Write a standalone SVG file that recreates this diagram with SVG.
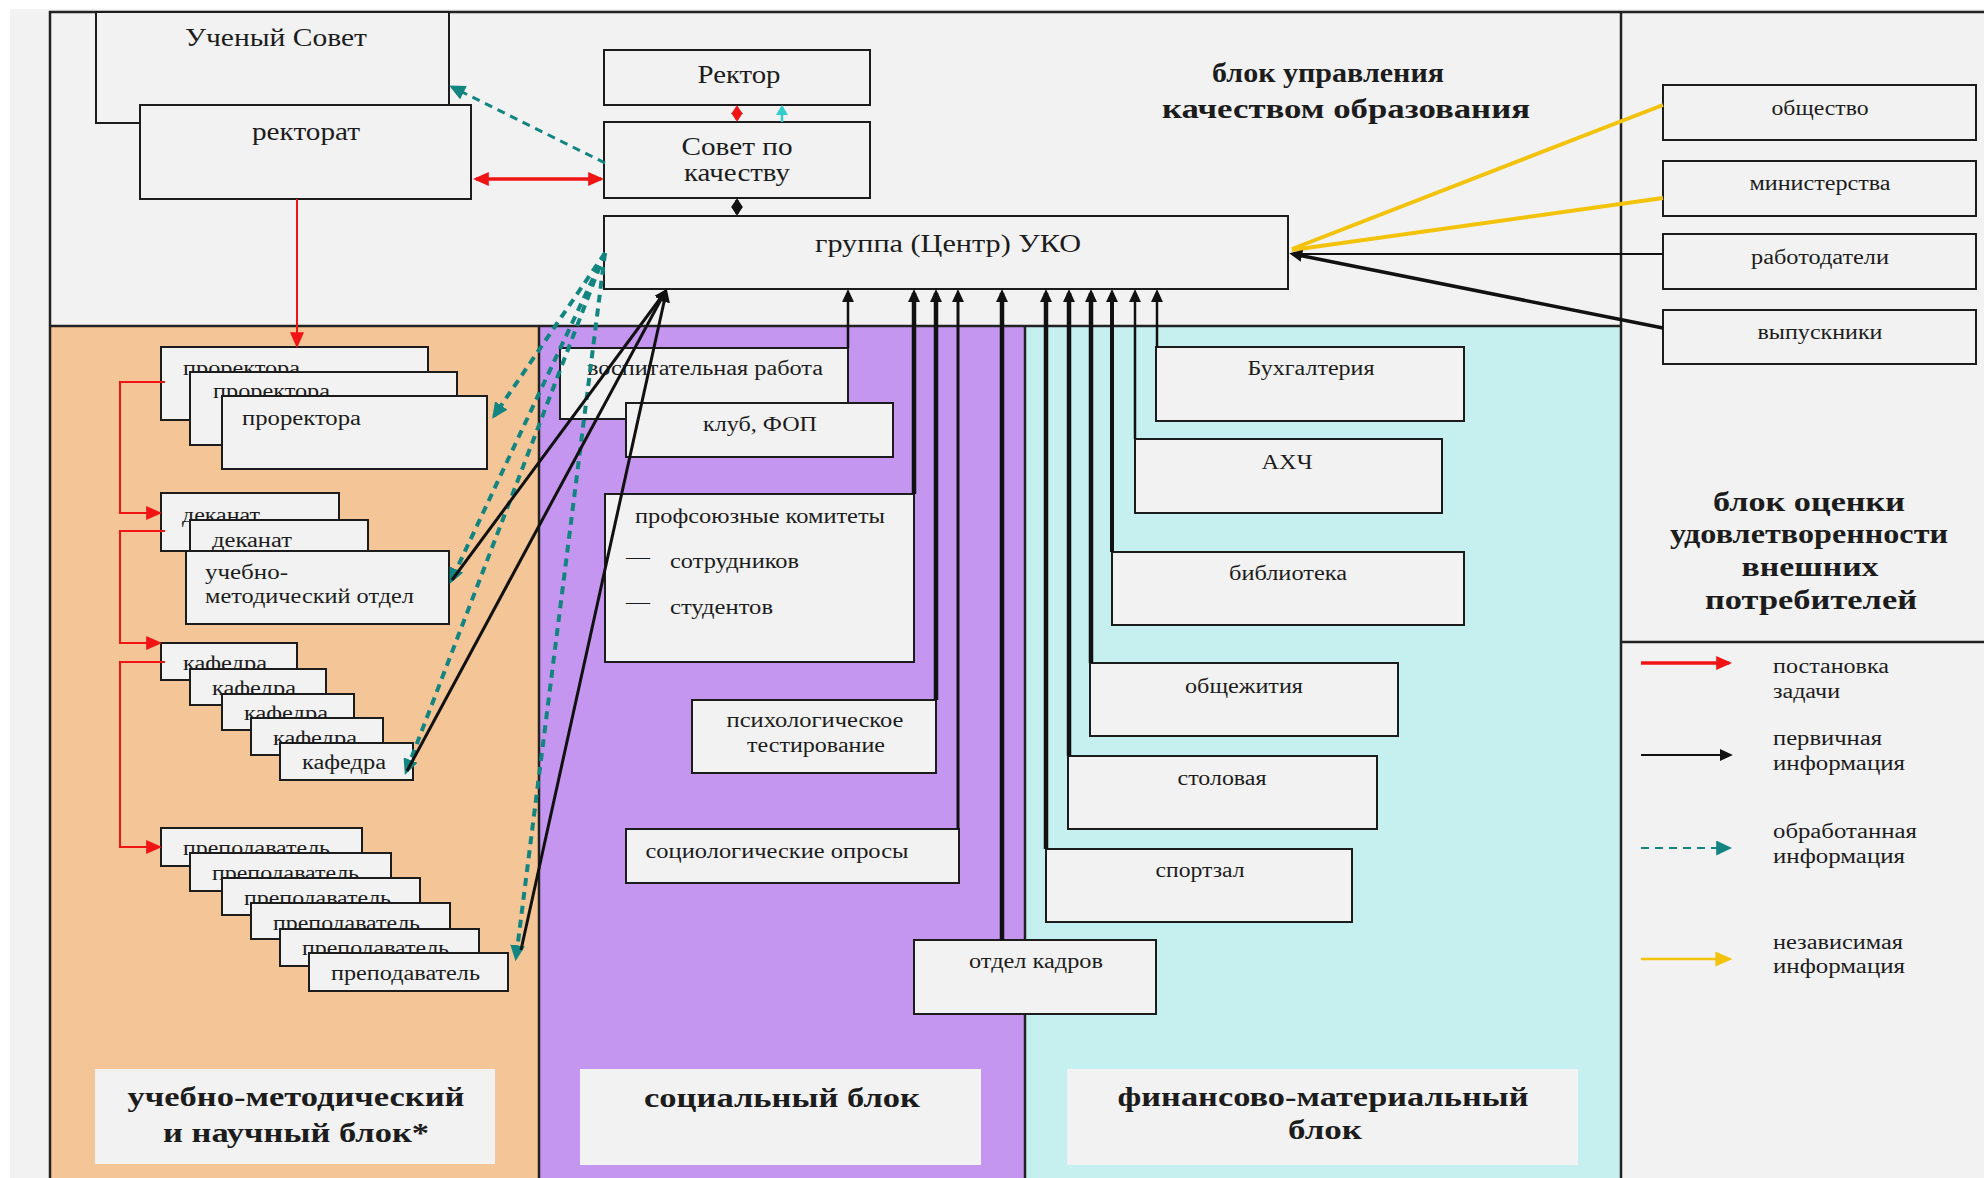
<svg xmlns="http://www.w3.org/2000/svg" width="1984" height="1178" viewBox="0 0 1984 1178">
  <style>
    .t { font-family: "Liberation Serif", "Times New Roman", serif; fill: #1c1c1c; }
    .s { font-size: 20px; }
    .m { font-size: 25px; }
    .b { font-size: 28px; font-weight: bold; }
    .c { text-anchor: middle; }
    .box { fill: #f2f2f2; stroke: #1c1c1c; stroke-width: 2; }
    .tag { fill: #f2f2f2; }
    .frame { fill: none; stroke: #222; stroke-width: 2.5; }
    .red { fill: none; stroke: #f01414; }
    .blk { fill: none; stroke: #111; }
    .teal { fill: none; stroke: #138581; stroke-dasharray: 8 6; }
    .yel { fill: none; stroke: #f3c20a; }
    .cyan { fill: none; stroke: #33cccc; }
  </style>
  <defs>
    <marker id="aRed" viewBox="0 0 10 10" refX="8" refY="5" markerUnits="userSpaceOnUse" markerWidth="16" markerHeight="14" orient="auto-start-reverse" preserveAspectRatio="none">
      <path d="M0,0 L10,5 L0,10 z" fill="#f01414"/>
    </marker>
    <marker id="aRedS" viewBox="0 0 10 10" refX="8" refY="5" markerUnits="userSpaceOnUse" markerWidth="9" markerHeight="12" orient="auto-start-reverse" preserveAspectRatio="none">
      <path d="M0,0 L10,5 L0,10 z" fill="#f01414"/>
    </marker>
    <marker id="aBlk" viewBox="0 0 10 10" refX="7" refY="5" markerUnits="userSpaceOnUse" markerWidth="13" markerHeight="12" orient="auto-start-reverse" preserveAspectRatio="none">
      <path d="M0,0 L10,5 L0,10 z" fill="#111"/>
    </marker>
    <marker id="aBlkS" viewBox="0 0 10 10" refX="8" refY="5" markerUnits="userSpaceOnUse" markerWidth="9" markerHeight="12" orient="auto-start-reverse" preserveAspectRatio="none">
      <path d="M0,0 L10,5 L0,10 z" fill="#111"/>
    </marker>
    <marker id="aTeal" viewBox="0 0 10 10" refX="8" refY="5" markerUnits="userSpaceOnUse" markerWidth="16" markerHeight="15" orient="auto" preserveAspectRatio="none">
      <path d="M0,0 L10,5 L0,10 z" fill="#138581"/>
    </marker>
    <marker id="aCyan" viewBox="0 0 10 10" refX="8" refY="5" markerUnits="userSpaceOnUse" markerWidth="10" markerHeight="12" orient="auto" preserveAspectRatio="none">
      <path d="M0,0 L10,5 L0,10 z" fill="#33cccc"/>
    </marker>
    <marker id="aYel" viewBox="0 0 10 10" refX="8" refY="5" markerUnits="userSpaceOnUse" markerWidth="17" markerHeight="15" orient="auto" preserveAspectRatio="none">
      <path d="M0,0 L10,5 L0,10 z" fill="#f3c20a"/>
    </marker>
  </defs>

  <!-- page and block backgrounds -->
  <rect x="0" y="0" width="1984" height="1178" fill="#ffffff"/>
  <rect x="10" y="9" width="1974" height="1169" fill="#f2f2f2"/>
  <rect x="50" y="326" width="489" height="852" fill="#f4c597"/>
  <rect x="539" y="326" width="486" height="852" fill="#c596ef"/>
  <rect x="1025" y="326" width="596" height="852" fill="#c6f0f0"/>
  <path class="frame" d="M50,1178 V12 H1984 M50,326 H1621 M539,326 V1178 M1025,326 V1178 M1621,12 V1178 M1621,642 H1984"/>

  <!-- management block -->
  <g id="uchenyi-sovet">
    <rect class="box" x="96" y="12" width="353" height="111"/>
    <text class="t m c" x="276" y="46" textLength="182" lengthAdjust="spacingAndGlyphs">Ученый Совет</text>
  </g>
  <g id="rektorat">
    <rect class="box" x="140" y="105" width="331" height="94"/>
    <text class="t m c" x="306" y="140" textLength="108" lengthAdjust="spacingAndGlyphs">ректорат</text>
  </g>
  <g id="rektor">
    <rect class="box" x="604" y="50" width="266" height="55"/>
    <text class="t m c" x="739" y="83" textLength="83" lengthAdjust="spacingAndGlyphs">Ректор</text>
  </g>
  <g id="sovet-po-kachestvu">
    <rect class="box" x="604" y="122" width="266" height="76"/>
    <text class="t m c" x="737" y="155" textLength="111" lengthAdjust="spacingAndGlyphs">Совет по</text>
    <text class="t m c" x="737" y="181" textLength="106" lengthAdjust="spacingAndGlyphs">качеству</text>
  </g>
  <g id="gruppa-uko">
    <rect class="box" x="604" y="216" width="684" height="73"/>
    <text class="t m c" x="948" y="252" textLength="266" lengthAdjust="spacingAndGlyphs">группа (Центр) УКО</text>
  </g>
  <g id="title-management">
    <text class="t b c" x="1328" y="82" textLength="232" lengthAdjust="spacingAndGlyphs">блок управления</text>
    <text class="t b c" x="1346" y="118" textLength="368" lengthAdjust="spacingAndGlyphs">качеством образования</text>
  </g>

  <!-- external consumers -->
  <g id="obschestvo">
    <rect class="box" x="1663" y="85" width="313" height="55"/>
    <text class="t s c" x="1820" y="115" textLength="97" lengthAdjust="spacingAndGlyphs">общество</text>
  </g>
  <g id="ministerstva">
    <rect class="box" x="1663" y="161" width="313" height="55"/>
    <text class="t s c" x="1820" y="190" textLength="141" lengthAdjust="spacingAndGlyphs">министерства</text>
  </g>
  <g id="rabotodateli">
    <rect class="box" x="1663" y="234" width="313" height="55"/>
    <text class="t s c" x="1820" y="264" textLength="138" lengthAdjust="spacingAndGlyphs">работодатели</text>
  </g>
  <g id="vypuskniki">
    <rect class="box" x="1663" y="310" width="313" height="54"/>
    <text class="t s c" x="1820" y="339" textLength="125" lengthAdjust="spacingAndGlyphs">выпускники</text>
  </g>
  <g id="title-external">
    <text class="t b c" x="1809" y="511" textLength="192" lengthAdjust="spacingAndGlyphs">блок оценки</text>
    <text class="t b c" x="1809" y="543" textLength="278" lengthAdjust="spacingAndGlyphs">удовлетворенности</text>
    <text class="t b c" x="1810" y="576" textLength="137" lengthAdjust="spacingAndGlyphs">внешних</text>
    <text class="t b c" x="1811" y="609" textLength="212" lengthAdjust="spacingAndGlyphs">потребителей</text>
  </g>

  <!-- teaching and research block -->
  <g id="prorektora">
    <rect class="box" x="161" y="347" width="267" height="73"/>
    <text class="t s" x="183" y="375" textLength="117" lengthAdjust="spacingAndGlyphs">проректора</text>
    <rect class="box" x="190" y="372" width="267" height="73"/>
    <text class="t s" x="213" y="398" textLength="117" lengthAdjust="spacingAndGlyphs">проректора</text>
    <rect class="box" x="222" y="396" width="265" height="73"/>
    <text class="t s" x="242" y="425" textLength="119" lengthAdjust="spacingAndGlyphs">проректора</text>
  </g>
  <g id="dekanat">
    <rect class="box" x="161" y="493" width="178" height="58"/>
    <text class="t s" x="182" y="522" textLength="78" lengthAdjust="spacingAndGlyphs">деканат</text>
    <rect class="box" x="190" y="520" width="178" height="58"/>
    <text class="t s" x="212" y="547" textLength="80" lengthAdjust="spacingAndGlyphs">деканат</text>
  </g>
  <g id="umo">
    <rect class="box" x="186" y="551" width="263" height="73"/>
    <text class="t s" x="205" y="579" textLength="83" lengthAdjust="spacingAndGlyphs">учебно-</text>
    <text class="t s" x="205" y="603" textLength="209" lengthAdjust="spacingAndGlyphs">методический отдел</text>
  </g>
  <g id="kafedra">
    <rect class="box" x="161" y="643" width="136" height="37"/>
    <text class="t s" x="183" y="670" textLength="84" lengthAdjust="spacingAndGlyphs">кафедра</text>
    <rect class="box" x="190" y="669" width="136" height="36"/>
    <text class="t s" x="212" y="695" textLength="84" lengthAdjust="spacingAndGlyphs">кафедра</text>
    <rect class="box" x="222" y="694" width="132" height="36"/>
    <text class="t s" x="244" y="720" textLength="84" lengthAdjust="spacingAndGlyphs">кафедра</text>
    <rect class="box" x="251" y="718" width="132" height="37"/>
    <text class="t s" x="273" y="745" textLength="84" lengthAdjust="spacingAndGlyphs">кафедра</text>
    <rect class="box" x="280" y="743" width="133" height="37"/>
    <text class="t s" x="302" y="769" textLength="84" lengthAdjust="spacingAndGlyphs">кафедра</text>
  </g>
  <g id="prepodavatel">
    <rect class="box" x="161" y="828" width="201" height="38"/>
    <text class="t s" x="183" y="855" textLength="147" lengthAdjust="spacingAndGlyphs">преподаватель</text>
    <rect class="box" x="190" y="853" width="201" height="38"/>
    <text class="t s" x="212" y="880" textLength="147" lengthAdjust="spacingAndGlyphs">преподаватель</text>
    <rect class="box" x="222" y="878" width="198" height="37"/>
    <text class="t s" x="244" y="905" textLength="147" lengthAdjust="spacingAndGlyphs">преподаватель</text>
    <rect class="box" x="251" y="903" width="199" height="36"/>
    <text class="t s" x="273" y="930" textLength="147" lengthAdjust="spacingAndGlyphs">преподаватель</text>
    <rect class="box" x="280" y="929" width="199" height="37"/>
    <text class="t s" x="302" y="955" textLength="147" lengthAdjust="spacingAndGlyphs">преподаватель</text>
    <rect class="box" x="309" y="953" width="199" height="38"/>
    <text class="t s" x="331" y="980" textLength="149" lengthAdjust="spacingAndGlyphs">преподаватель</text>
  </g>
  <g id="title-teaching">
    <rect class="tag" x="95" y="1069" width="400" height="95"/>
    <text class="t b c" x="296" y="1106" textLength="337" lengthAdjust="spacingAndGlyphs">учебно-методический</text>
    <text class="t b c" x="296" y="1142" textLength="266" lengthAdjust="spacingAndGlyphs">и научный блок*</text>
  </g>

  <!-- social block -->
  <g id="vospitatelnaya">
    <rect class="box" x="560" y="348" width="288" height="71"/>
    <text class="t s" x="587" y="375" textLength="236" lengthAdjust="spacingAndGlyphs">воспитательная работа</text>
  </g>
  <g id="klub-fop">
    <rect class="box" x="626" y="403" width="267" height="54"/>
    <text class="t s c" x="760" y="431" textLength="114" lengthAdjust="spacingAndGlyphs">клуб, ФОП</text>
  </g>
  <g id="profsouz">
    <rect class="box" x="605" y="494" width="309" height="168"/>
    <text class="t s" x="635" y="523" textLength="250" lengthAdjust="spacingAndGlyphs">профсоюзные комитеты</text>
    <text class="t s" x="626" y="564" textLength="24" lengthAdjust="spacingAndGlyphs">—</text>
    <text class="t s" x="670" y="568" textLength="129" lengthAdjust="spacingAndGlyphs">сотрудников</text>
    <text class="t s" x="626" y="609" textLength="24" lengthAdjust="spacingAndGlyphs">—</text>
    <text class="t s" x="670" y="614" textLength="103" lengthAdjust="spacingAndGlyphs">студентов</text>
  </g>
  <g id="psych-test">
    <rect class="box" x="692" y="700" width="244" height="73"/>
    <text class="t s c" x="815" y="727" textLength="177" lengthAdjust="spacingAndGlyphs">психологическое</text>
    <text class="t s c" x="816" y="752" textLength="138" lengthAdjust="spacingAndGlyphs">тестирование</text>
  </g>
  <g id="socio-oprosy">
    <rect class="box" x="626" y="829" width="333" height="54"/>
    <text class="t s c" x="777" y="858" textLength="263" lengthAdjust="spacingAndGlyphs">социологические опросы</text>
  </g>
  <g id="otdel-kadrov">
    <rect class="box" x="914" y="940" width="242" height="74"/>
    <text class="t s c" x="1036" y="968" textLength="134" lengthAdjust="spacingAndGlyphs">отдел кадров</text>
  </g>
  <g id="title-social">
    <rect class="tag" x="580" y="1069" width="401" height="96"/>
    <text class="t b c" x="782" y="1107" textLength="276" lengthAdjust="spacingAndGlyphs">социальный блок</text>
  </g>

  <!-- financial and material block -->
  <g id="buhgalteriya">
    <rect class="box" x="1156" y="347" width="308" height="74"/>
    <text class="t s c" x="1311" y="375" textLength="127" lengthAdjust="spacingAndGlyphs">Бухгалтерия</text>
  </g>
  <g id="ahch">
    <rect class="box" x="1135" y="439" width="307" height="74"/>
    <text class="t s c" x="1287" y="469" textLength="51" lengthAdjust="spacingAndGlyphs">АХЧ</text>
  </g>
  <g id="biblioteka">
    <rect class="box" x="1112" y="552" width="352" height="73"/>
    <text class="t s c" x="1288" y="580" textLength="118" lengthAdjust="spacingAndGlyphs">библиотека</text>
  </g>
  <g id="obschezhitiya">
    <rect class="box" x="1090" y="663" width="308" height="73"/>
    <text class="t s c" x="1244" y="693" textLength="118" lengthAdjust="spacingAndGlyphs">общежития</text>
  </g>
  <g id="stolovaya">
    <rect class="box" x="1068" y="756" width="309" height="73"/>
    <text class="t s c" x="1222" y="785" textLength="89" lengthAdjust="spacingAndGlyphs">столовая</text>
  </g>
  <g id="sportzal">
    <rect class="box" x="1046" y="849" width="306" height="73"/>
    <text class="t s c" x="1200" y="877" textLength="89" lengthAdjust="spacingAndGlyphs">спортзал</text>
  </g>
  <g id="title-finance">
    <rect class="tag" x="1067" y="1069" width="511" height="96"/>
    <text class="t b c" x="1323" y="1106" textLength="411" lengthAdjust="spacingAndGlyphs">финансово-материальный</text>
    <text class="t b c" x="1325" y="1139" textLength="74" lengthAdjust="spacingAndGlyphs">блок</text>
  </g>

  <!-- flows -->
  <g id="connectors">
    <!-- task setting -->
    <path class="red" stroke-width="2" d="M297,199 V345" marker-end="url(#aRed)"/>
    <path class="red" stroke-width="2" d="M165,382 H120 V513 H159" marker-end="url(#aRed)"/>
    <path class="red" stroke-width="2" d="M165,531 H120 V643 H159" marker-end="url(#aRed)"/>
    <path class="red" stroke-width="2" d="M165,662 H120 V847 H159" marker-end="url(#aRed)"/>
    <path class="red" stroke-width="3.5" d="M476,179 H601" marker-start="url(#aRed)" marker-end="url(#aRed)"/>
    <path class="red" stroke-width="2.5" d="M737,107 V120" marker-start="url(#aRedS)" marker-end="url(#aRedS)"/>
    <path class="cyan" stroke-width="2.5" d="M782,122 V107" marker-end="url(#aCyan)"/>
    <path class="blk" stroke-width="3" d="M737,200 V214" marker-start="url(#aBlkS)" marker-end="url(#aBlkS)"/>

    <!-- processed information -->
    <path class="teal" stroke-width="3" d="M605,163 L452,87" marker-end="url(#aTeal)"/>
    <path class="teal" stroke-width="4" d="M605,253 L494,416" marker-end="url(#aTeal)"/>
    <path class="teal" stroke-width="4" d="M605,253 L451,581" marker-end="url(#aTeal)"/>
    <path class="teal" stroke-width="4" d="M605,253 L406,772" marker-end="url(#aTeal)"/>
    <path class="teal" stroke-width="4" d="M605,253 L516,958" marker-end="url(#aTeal)"/>

    <!-- primary information -->
    <path class="blk" stroke-width="3" d="M452,580 L665,292" marker-end="url(#aBlk)"/>
    <path class="blk" stroke-width="3" d="M407,771 L665,292" marker-end="url(#aBlk)"/>
    <path class="blk" stroke-width="3" d="M521,950 L666,293" marker-end="url(#aBlk)"/>
    <path class="blk" stroke-width="2.5" d="M848,348 V293" marker-end="url(#aBlk)"/>
    <path class="blk" stroke-width="4.5" d="M914,494 V293" marker-end="url(#aBlk)"/>
    <path class="blk" stroke-width="4.5" d="M936,700 V293" marker-end="url(#aBlk)"/>
    <path class="blk" stroke-width="3" d="M958,829 V293" marker-end="url(#aBlk)"/>
    <path class="blk" stroke-width="4.5" d="M1002,940 V293" marker-end="url(#aBlk)"/>
    <path class="blk" stroke-width="4.5" d="M1046,849 V293" marker-end="url(#aBlk)"/>
    <path class="blk" stroke-width="4.5" d="M1069,756 V293" marker-end="url(#aBlk)"/>
    <path class="blk" stroke-width="4.5" d="M1091,663 V293" marker-end="url(#aBlk)"/>
    <path class="blk" stroke-width="4" d="M1112,552 V293" marker-end="url(#aBlk)"/>
    <path class="blk" stroke-width="2.5" d="M1135,439 V293" marker-end="url(#aBlk)"/>
    <path class="blk" stroke-width="2.5" d="M1157,347 V293" marker-end="url(#aBlk)"/>

    <!-- independent information and consumer feedback -->
    <path class="yel" stroke-width="4" d="M1663,105 L1292,249"/>
    <path class="yel" stroke-width="4" d="M1663,198 L1292,250"/>
    <path class="blk" stroke-width="2" d="M1663,254 H1292"/>
    <path class="blk" stroke-width="3.5" d="M1663,328 L1293,254" marker-end="url(#aBlk)"/>
  </g>

  <!-- legend -->
  <g id="legend">
    <path class="red" stroke-width="3.5" d="M1641,663 H1729" marker-end="url(#aRed)"/>
    <text class="t s" x="1773" y="673" textLength="116" lengthAdjust="spacingAndGlyphs">постановка</text>
    <text class="t s" x="1773" y="698" textLength="67" lengthAdjust="spacingAndGlyphs">задачи</text>
    <path class="blk" stroke-width="2" d="M1641,755 H1729" marker-end="url(#aBlk)"/>
    <text class="t s" x="1773" y="745" textLength="109" lengthAdjust="spacingAndGlyphs">первичная</text>
    <text class="t s" x="1773" y="770" textLength="132" lengthAdjust="spacingAndGlyphs">информация</text>
    <path class="teal" stroke-width="2" stroke-dasharray="7 4" d="M1641,848 H1729" marker-end="url(#aTeal)"/>
    <text class="t s" x="1773" y="838" textLength="144" lengthAdjust="spacingAndGlyphs">обработанная</text>
    <text class="t s" x="1773" y="863" textLength="132" lengthAdjust="spacingAndGlyphs">информация</text>
    <path class="yel" stroke-width="2.5" d="M1641,959 H1729" marker-end="url(#aYel)"/>
    <text class="t s" x="1773" y="949" textLength="130" lengthAdjust="spacingAndGlyphs">независимая</text>
    <text class="t s" x="1773" y="973" textLength="132" lengthAdjust="spacingAndGlyphs">информация</text>
  </g>
</svg>
